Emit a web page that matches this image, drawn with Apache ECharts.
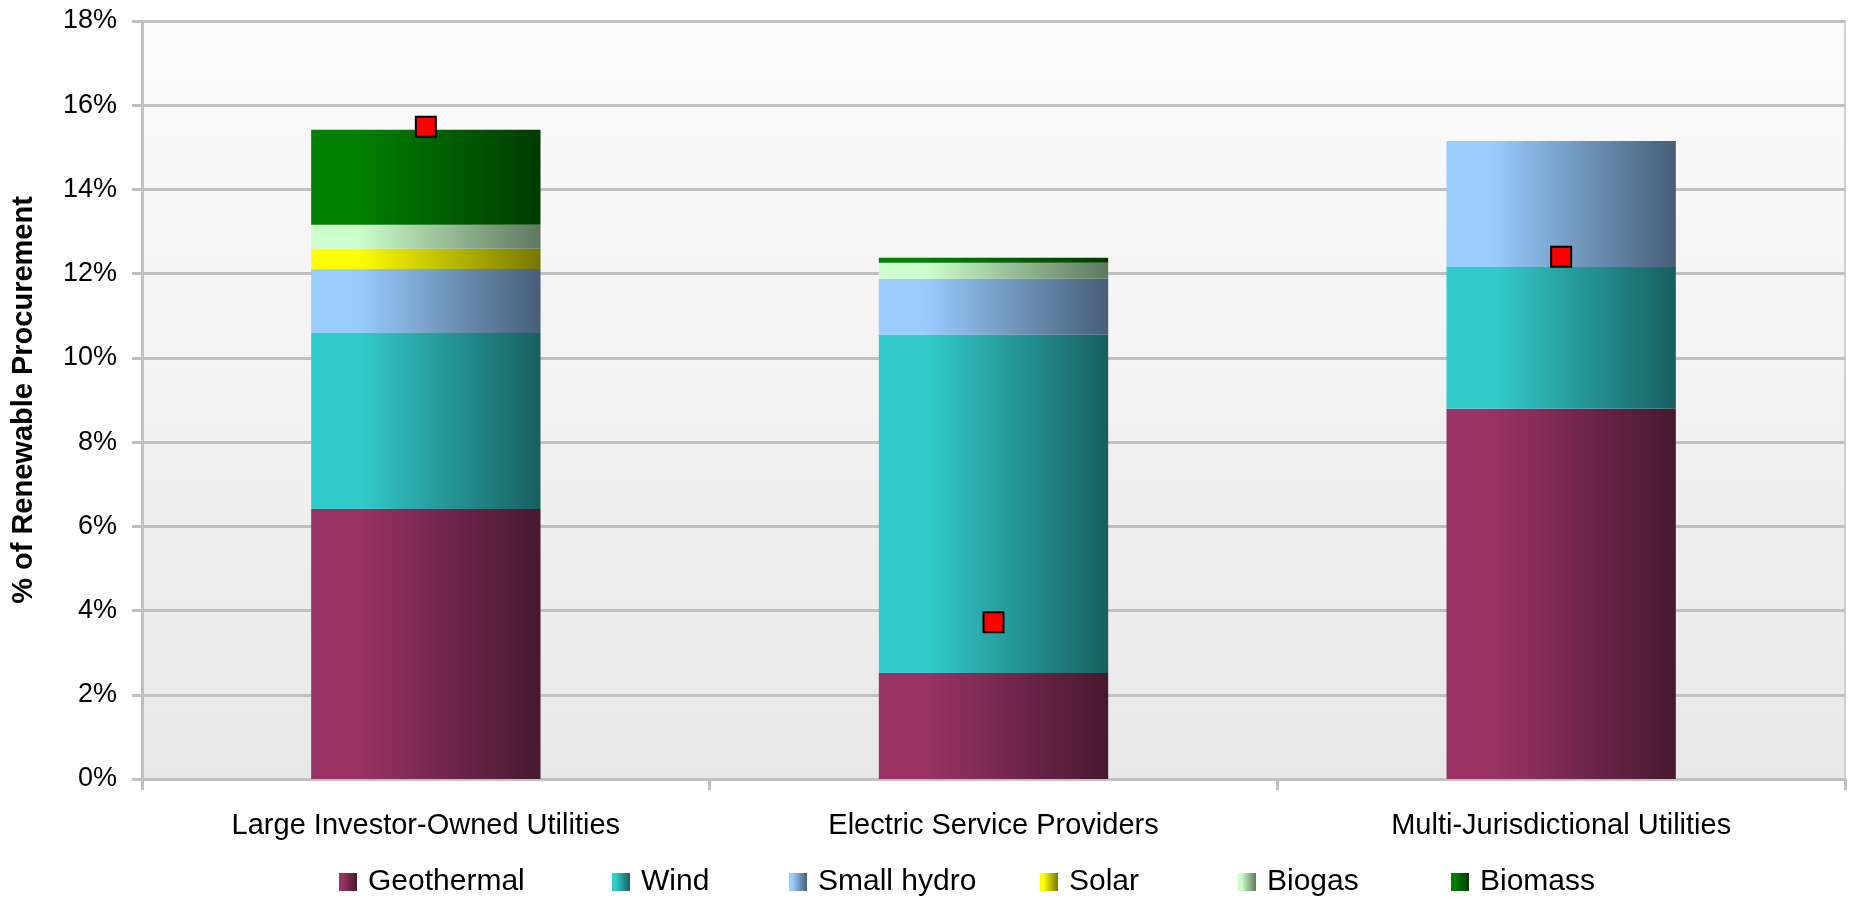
<!DOCTYPE html>
<html>
<head>
<meta charset="utf-8">
<script src="https://cdn.jsdelivr.net/npm/echarts@6/dist/echarts.min.js"></script>
<style>
  html, body { margin: 0; padding: 0; background: #ffffff; }
  #chart { width: 1849px; height: 897px; }
</style>
</head>
<body>
<div id="chart"></div>
<script>
// Renewable procurement by resource type, % of retail sales
const categories = ['Large Investor-Owned Utilities', 'Electric Service Providers', 'Multi-Jurisdictional Utilities'];
const geothermal = [6.41, 2.52, 8.79];
const wind       = [4.18, 8.03, 3.37];
const smallHydro = [1.52, 1.33, 2.99];
const solar      = [0.48, 0.00, 0.00];
const biogas     = [0.57, 0.38, 0.00];
const biomass    = [2.26, 0.12, 0.00];
// Red square markers
const target     = [15.49, 3.72, 12.40];

const yMin = 0, yMax = 18, yStep = 2;

const FONT = '"Liberation Sans", Arial, sans-serif';

// Each resource gets a left-to-right shading from its base colour to a darker tone
function shade(light, dark) {
  return new echarts.graphic.LinearGradient(0, 0, 1, 0, [
    { offset: 0, color: light },
    { offset: 0.2, color: light },
    { offset: 1, color: dark }
  ]);
}

const resources = [
  { name: 'Geothermal',  data: geothermal, light: '#993366', dark: '#471830', left: 339 },
  { name: 'Wind',        data: wind,       light: '#33CCCC', dark: '#185F5F', left: 612 },
  { name: 'Small hydro', data: smallHydro, light: '#99CCFF', dark: '#475E77', left: 789 },
  { name: 'Solar',       data: solar,      light: '#FFFF00', dark: '#777700', left: 1040 },
  { name: 'Biogas',      data: biogas,     light: '#CCFFCC', dark: '#5F775F', left: 1238 },
  { name: 'Biomass',     data: biomass,    light: '#008000', dark: '#003B00', left: 1451 }
];

const barSeries = resources.map(r => ({
  name: r.name,
  type: 'bar',
  stack: 'total',
  barWidth: '40.4%',
  data: r.data,
  itemStyle: { color: shade(r.light, r.dark) },
  emphasis: { disabled: true }
}));

const legends = resources.map(r => ({
  data: [r.name],
  left: r.left,
  top: 867,
  icon: 'rect',
  itemWidth: 18,
  itemHeight: 18,
  padding: 0,
  selectedMode: false,
  textStyle: { fontFamily: FONT, fontSize: 30, color: '#000', padding: [0, 0, 0, 6] }
}));

const chart = echarts.init(document.getElementById('chart'), null, { renderer: 'canvas' });

chart.setOption({
  animation: false,
  backgroundColor: '#ffffff',
  textStyle: { fontFamily: FONT },
  grid: {
    left: 142, right: 4, top: 21, bottom: 118,
    show: true,
    borderWidth: 2,
    borderColor: '#CFCFCF',
    backgroundColor: new echarts.graphic.LinearGradient(0, 0, 0, 1, [
      { offset: 0, color: '#FCFCFC' },
      { offset: 1, color: '#E8E8E8' }
    ])
  },
  legend: legends,
  xAxis: {
    type: 'category',
    data: categories,
    axisLine: { lineStyle: { color: '#C0C0C0', width: 3 } },
    axisTick: { show: true, length: 11, lineStyle: { color: '#C0C0C0', width: 3 } },
    axisLabel: { interval: 0, color: '#000', fontFamily: FONT, fontSize: 29, margin: 32 }
  },
  yAxis: {
    type: 'value',
    min: yMin, max: yMax, interval: yStep,
    name: '% of Renewable Procurement',
    nameLocation: 'middle',
    nameRotate: 90,
    nameGap: 104,
    nameTextStyle: { fontFamily: FONT, fontSize: 29, fontWeight: 'bold', color: '#000' },
    axisLine: { show: true, lineStyle: { color: '#C0C0C0', width: 3 } },
    axisTick: { show: true, length: 10, lineStyle: { color: '#C0C0C0', width: 3 } },
    axisLabel: { formatter: '{value}%', color: '#000', fontFamily: FONT, fontSize: 27, margin: 25 },
    splitLine: { lineStyle: { color: '#C0C0C0', width: 3 } }
  },
  series: barSeries.concat([{
    name: 'Target',
    type: 'scatter',
    data: target,
    symbol: 'rect',
    symbolSize: 20,
    z: 5,
    itemStyle: { color: '#FF0000', borderColor: '#000000', borderWidth: 2, opacity: 1 },
    emphasis: { disabled: true }
  }])
});
</script>
</body>
</html>
